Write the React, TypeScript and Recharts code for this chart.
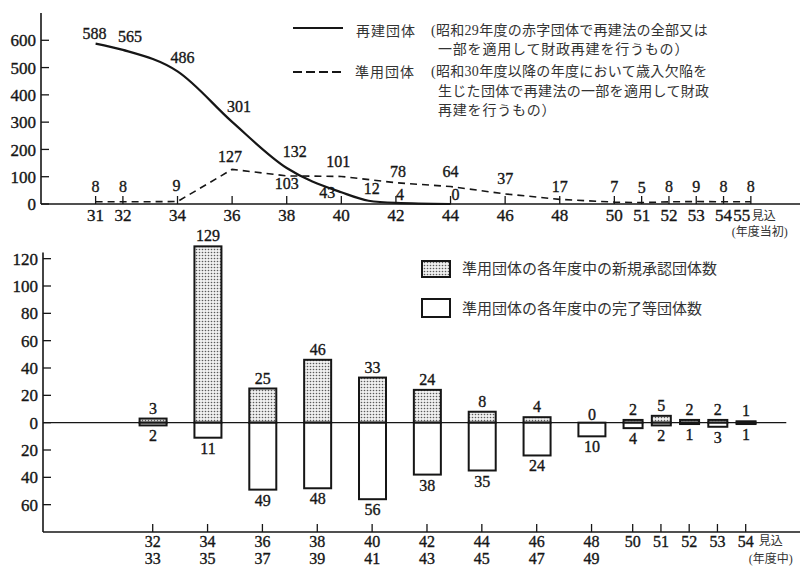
import React from 'react'
import { LineChart, Line, XAxis, YAxis, BarChart, Bar, ReferenceLine } from 'recharts'

// 財政再建団体・準用団体の推移（上段：年度当初の団体数、下段：各年度中の承認・完了）

const NUM_FONT = '"Liberation Serif", "Times New Roman", "DejaVu Serif", serif'
const JP_FONT = '"Liberation Serif", "Times New Roman", "Noto Sans CJK JP", serif'
const INK = '#161616'
const NUM_STYLE = { fontFamily: NUM_FONT }
const JP_STYLE = { fontFamily: JP_FONT }
// 印刷の太めの数字に寄せるため細いストロークを重ねる
const NUM_PROPS = { style: NUM_STYLE, fill: INK, stroke: INK, strokeWidth: 0.35 }

// 上段
const SAIKEN_YEARS = [31, 32, 34, 36, 38, 40, 41, 42, 44]
const SAIKEN_COUNTS = [588, 565, 486, 301, 132, 43, 12, 4, 0]
const JUNYO_YEARS = [31, 32, 34, 36, 38, 40, 42, 44, 46, 48, 50, 51, 52, 53, 54, 55]
const JUNYO_COUNTS = [8, 8, 9, 127, 103, 101, 78, 64, 37, 17, 7, 5, 8, 9, 8, 8]
const TOP_X_TICKS = [31, 32, 34, 36, 38, 40, 42, 44, 46, 48, 50, 51, 52, 53, 54, 55]
const TOP_Y_TICKS = [0, 100, 200, 300, 400, 500, 600]

// 下段
const PERIOD_FROM = ['32', '34', '36', '38', '40', '42', '44', '46', '48', '50', '51', '52', '53', '54']
const PERIOD_TO = ['33', '35', '37', '39', '41', '43', '45', '47', '49', '', '', '', '', '']
const PERIOD_SLOT = [32, 34, 36, 38, 40, 42, 44, 46, 48, 49.5, 50.53, 51.56, 52.59, 53.62]
const NEW_APPROVED = [3, 129, 25, 46, 33, 24, 8, 4, 0, 2, 5, 2, 2, 1]
const COMPLETED = [2, 11, 49, 48, 56, 38, 35, 24, 10, 4, 2, 1, 3, 1]
const BOTTOM_Y_TICKS = [-60, -40, -20, 0, 20, 40, 60, 80, 100, 120]

const saikenData = SAIKEN_YEARS.map((year, i) => ({ year, count: SAIKEN_COUNTS[i] }))
const junyoData = JUNYO_YEARS.map((year, i) => ({ year, count: JUNYO_COUNTS[i] }))
const periodData = PERIOD_SLOT.map((slot, i) => ({
  slot,
  approved: NEW_APPROVED[i],
  completed: -COMPLETED[i],
  single: PERIOD_TO[i] === '',
}))

// ラベルの微調整 [dx, dy]
const SAIKEN_NUDGE: Record<number, [number, number]> = {
  0: [-1, -5], 1: [7, -8], 2: [5, -8], 3: [7, -10], 4: [8, -11],
  5: [-14, 6], 6: [3, -7], 7: [4, -3], 8: [5, -4],
}
const JUNYO_NUDGE: Record<number, [number, number]> = {
  2: [-1, -11], 3: [-2, -7], 4: [0, 13], 5: [-3, -9], 6: [2, -6], 9: [0, -7],
}

const valueLabel = (nudge: Record<number, [number, number]>, fallback: [number, number]) =>
  (props: any) => {
    const { cx, cy, index, value } = props
    const [dx, dy] = nudge[index] ?? fallback
    return (
      <text key={`v${index}`} x={cx + dx} y={cy + dy} textAnchor="middle" fontSize={16} {...NUM_PROPS}>
        {value}
      </text>
    )
  }

function YTick(props: any) {
  const { x, y, payload } = props
  return (
    <g>
      <line x1={x} x2={x + 8} y1={y} y2={y} stroke={INK} strokeWidth={1.3} />
      <text x={x - 5} y={y} dy="0.36em" textAnchor="end" fontSize={17} {...NUM_PROPS}>
        {Math.abs(payload.value)}
      </text>
    </g>
  )
}

function TopXTick(props: any) {
  const { x, y, payload } = props
  const last = payload.value === 55
  return (
    <g>
      <line x1={x} x2={x} y1={y} y2={y - 8} stroke={INK} strokeWidth={1.3} />
      <text x={last ? x - 9 : x} y={y + 17} textAnchor="middle" fontSize={17} {...NUM_PROPS}>
        {payload.value}
      </text>
      {last && (
        <>
          <text x={x + 1} y={y + 16} fontSize={12} style={JP_STYLE} fill="#333">見込</text>
          <text x={x + 9} y={y + 32} textAnchor="middle" fontSize={12} style={JP_STYLE} fill="#333">(年度当初)</text>
        </>
      )}
    </g>
  )
}

function BottomXTick(props: any) {
  const { x, y, payload } = props
  const i = PERIOD_SLOT.indexOf(payload.value)
  const last = i === PERIOD_SLOT.length - 1
  return (
    <g>
      <line x1={x} x2={x} y1={y} y2={y - 8} stroke={INK} strokeWidth={1.3} />
      <text x={x} y={y + 15} textAnchor="middle" fontSize={16} {...NUM_PROPS}>
        <tspan x={x}>{PERIOD_FROM[i]}</tspan>
        {PERIOD_TO[i] && <tspan x={x} dy={17}>{PERIOD_TO[i]}</tspan>}
      </text>
      {last && (
        <>
          <text x={x + 13} y={y + 13} fontSize={12} style={JP_STYLE} fill="#333">見込</text>
          <text x={x + 25} y={y + 31} textAnchor="middle" fontSize={12} style={JP_STYLE} fill="#333">(年度中)</text>
        </>
      )}
    </g>
  )
}

const periodBar = (kind: 'up' | 'down') => (props: any) => {
  const { x, y, width, height, payload, index } = props
  const w = payload.single ? 19 : 27
  const cx = x + width / 2
  const top = Math.min(y, y + height)
  const h = Math.abs(height)
  const value = kind === 'up' ? payload.approved : -payload.completed
  return (
    <g key={`${kind}${index}`}>
      {h > 0 && (
        <rect x={cx - w / 2} y={top} width={w} height={h}
          fill={kind === 'up' ? 'url(#stipple)' : '#ffffff'} stroke={INK} strokeWidth={2} />
      )}
      <text x={cx} y={kind === 'up' ? top - (h > 0 ? 5 : 3) : top + h + 16}
        textAnchor="middle" fontSize={16} {...NUM_PROPS}>
        {value}
      </text>
    </g>
  )
}

function Legends() {
  const jp = { style: JP_STYLE, fill: '#333' }
  return (
    <svg width={801} height={568} style={{ position: 'absolute', left: 0, top: 0, pointerEvents: 'none' }}>
      <line x1={293} x2={343} y1={28} y2={28} stroke={INK} strokeWidth={2} />
      <text x={356} y={36} fontSize={14} letterSpacing={1} {...jp}>再建団体</text>
      <text x={431} y={35} fontSize={14} letterSpacing={0.3} {...jp}>(昭和29年度の赤字団体で再建法の全部又は</text>
      <text x={438} y={54} fontSize={14} letterSpacing={0.8} {...jp}>一部を適用して財政再建を行うもの）</text>

      <line x1={293} x2={343} y1={72} y2={72} stroke={INK} strokeWidth={2} strokeDasharray="9 4" />
      <text x={355} y={77} fontSize={14} letterSpacing={1} {...jp}>準用団体</text>
      <text x={431} y={76} fontSize={14} letterSpacing={0.3} {...jp}>(昭和30年度以降の年度において歳入欠陥を</text>
      <text x={438} y={96} fontSize={14} letterSpacing={0.3} {...jp}>生じた団体で再建法の一部を適用して財政</text>
      <text x={438} y={115} fontSize={14} letterSpacing={0.8} {...jp}>再建を行うもの）</text>

      <rect x={422} y={261} width={28} height={16} fill="url(#stipple)" stroke={INK} strokeWidth={2} />
      <text x={462} y={274} fontSize={15} {...jp}>準用団体の各年度中の新規承認団体数</text>
      <rect x={422} y={299} width={28} height={18} fill="#ffffff" stroke={INK} strokeWidth={2} />
      <text x={462} y={314} fontSize={15} {...jp}>準用団体の各年度中の完了等団体数</text>
    </svg>
  )
}

export default function App() {
  return (
    <div style={{ position: 'absolute', left: 0, top: 0, width: 801, height: 568, background: '#fff', overflow: 'hidden' }}>
      <svg width={0} height={0} style={{ position: 'absolute' }}>
        <defs>
          <pattern id="stipple" width={3} height={3} patternUnits="userSpaceOnUse">
            <rect width={3} height={3} fill="#efefef" />
            <circle cx={1.5} cy={1.5} r={0.8} fill="#5a5a5a" />
          </pattern>
        </defs>
      </svg>

      <div style={{ position: 'absolute', left: 0, top: 0 }}>
        <LineChart width={801} height={240} margin={{ top: 13, right: 1, bottom: 6, left: 0 }}>
          <XAxis dataKey="year" type="number" domain={[29, 56.8]} ticks={TOP_X_TICKS} interval={0}
            height={30} tickSize={0} tickMargin={0} tickLine={false}
            axisLine={{ stroke: INK, strokeWidth: 1.6 }} tick={<TopXTick />} />
          <YAxis type="number" domain={[0, 700]} ticks={TOP_Y_TICKS} interval={0} width={41}
            tickSize={0} tickMargin={0} tickLine={false}
            axisLine={{ stroke: INK, strokeWidth: 1.6 }} tick={<YTick />} />
          <Line data={saikenData} dataKey="count" type="monotone" stroke={INK} strokeWidth={2.2}
            dot={valueLabel(SAIKEN_NUDGE, [0, -8])} activeDot={false} isAnimationActive={false} />
          <Line data={junyoData} dataKey="count" type="linear" stroke={INK} strokeWidth={1.6}
            strokeDasharray="7 5" dot={valueLabel(JUNYO_NUDGE, [0, -10])} activeDot={false}
            isAnimationActive={false} />
        </LineChart>
      </div>

      <div style={{ position: 'absolute', left: 0, top: 215 }}>
        <BarChart width={801} height={353} data={periodData} stackOffset="sign"
          margin={{ top: 30, right: 1, bottom: 0, left: 0 }}>
          <XAxis dataKey="slot" type="number" domain={[28, 55.6]} ticks={PERIOD_SLOT} interval={0}
            height={36} tickSize={0} tickMargin={0} tickLine={false}
            axisLine={{ stroke: INK, strokeWidth: 1.6 }} tick={<BottomXTick />} />
          <YAxis type="number" domain={[-80, 130]} ticks={BOTTOM_Y_TICKS} interval={0} width={43}
            tickSize={0} tickMargin={0} tickLine={false} axisLine={false} tick={<YTick />} />
          <ReferenceLine segment={[{ x: 28, y: -80 }, { x: 28, y: 124.5 }]} stroke={INK}
            strokeWidth={1.6} ifOverflow="visible" />
          <ReferenceLine segment={[{ x: 28, y: 0 }, { x: 55.1, y: 0 }]} stroke={INK}
            strokeWidth={1.4} ifOverflow="visible" />
          <Bar dataKey="approved" stackId="s" barSize={27} shape={periodBar('up')} isAnimationActive={false} />
          <Bar dataKey="completed" stackId="s" barSize={27} shape={periodBar('down')} isAnimationActive={false} />
        </BarChart>
      </div>

      <Legends />
    </div>
  )
}
